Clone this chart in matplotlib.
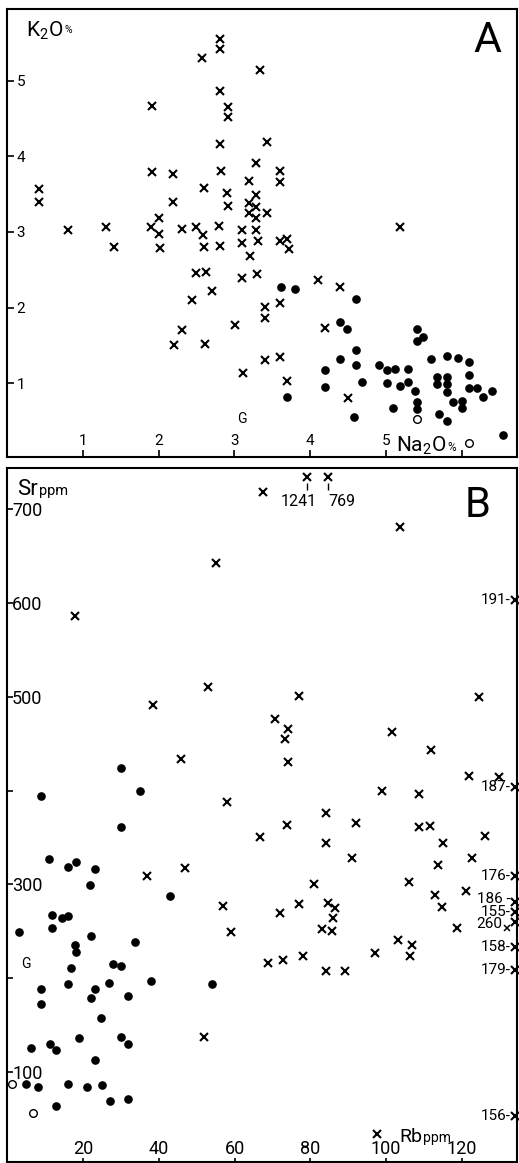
import numpy as np
import matplotlib
matplotlib.use('Agg')
import matplotlib.pyplot as plt

plt.rcParams['font.family'] = ['Roboto', 'DejaVu Sans']
plt.rcParams['mathtext.fontset'] = 'custom'
plt.rcParams['mathtext.rm'] = 'Roboto'
plt.rcParams['mathtext.default'] = 'regular'

## panel A : K2O vs Na2O (wt %)
a_cross_na = [0.42, 0.42, 0.80, 1.30, 1.41, 1.92, 1.91, 2.19, 2.19, 2.00, 1.90, 2.00, 2.02,
              2.31, 2.50, 2.59, 2.60, 2.80, 2.81, 2.57, 2.81, 2.81, 2.81, 2.91, 2.91, 2.81,
              2.82, 2.60, 2.90, 2.91, 3.20, 3.34, 3.43, 3.29, 3.60, 3.60, 3.29, 3.19, 3.29,
              3.43, 3.19, 3.29, 3.10, 3.29, 3.10, 3.31, 3.60, 3.70, 3.72, 3.21, 3.10, 3.30,
              2.49, 2.62, 2.44, 2.70, 2.31, 2.21, 2.61, 3.01, 3.11, 4.10, 4.39, 3.40, 3.40,
              3.60, 4.19, 3.40, 3.60, 3.70, 4.50, 5.18]
a_cross_k = [3.57, 3.40, 3.03, 3.07, 2.80, 4.67, 3.79, 3.77, 3.40, 3.18, 3.06, 2.97, 2.79,
             3.04, 3.07, 2.96, 2.80, 3.08, 2.81, 5.30, 5.56, 5.42, 4.87, 4.66, 4.52, 4.17,
             3.81, 3.58, 3.51, 3.35, 3.67, 5.15, 4.19, 3.92, 3.81, 3.66, 3.49, 3.38, 3.33,
             3.25, 3.25, 3.18, 3.03, 3.03, 2.85, 2.88, 2.88, 2.91, 2.78, 2.68, 2.39, 2.44,
             2.46, 2.47, 2.10, 2.22, 1.70, 1.50, 1.52, 1.77, 1.13, 2.36, 2.27, 2.01, 1.86,
             2.06, 1.73, 1.30, 1.35, 1.03, 0.80, 3.07]

a_dot_na = [3.61, 3.80, 4.61, 4.40, 4.49, 5.41, 5.49, 5.41, 4.60, 4.40, 4.60, 4.20, 4.91,
            5.01, 5.12, 5.29, 5.59, 5.80, 5.95, 6.09, 5.67, 5.80, 5.68, 5.80, 5.80, 6.09,
            6.09, 6.20, 6.40, 6.28, 6.00, 5.88, 6.00, 5.70, 5.80, 4.68, 4.20, 5.01, 5.19,
            5.29, 5.39, 5.41, 5.41, 5.09, 4.58, 3.69, 6.55]
a_dot_k = [2.27, 2.24, 2.11, 1.81, 1.72, 1.72, 1.61, 1.56, 1.44, 1.32, 1.24, 1.17, 1.24,
           1.17, 1.18, 1.18, 1.32, 1.36, 1.33, 1.28, 1.08, 1.08, 0.99, 0.99, 0.88, 1.11,
           0.93, 0.93, 0.89, 0.82, 0.76, 0.75, 0.67, 0.59, 0.50, 1.01, 0.95, 1.00, 0.96,
           1.01, 0.89, 0.75, 0.66, 0.67, 0.55, 0.81, 0.31]

a_open_na = [5.41, 6.10]
a_open_k = [0.52, 0.21]
a_g = (3.1, 0.52)

## panel B : Sr vs Rb (ppm)
b_cross_rb = [55.1, 17.9, 52.9, 38.5, 67.6, 103.6, 77.0, 124.5, 45.9, 58.0, 66.7, 36.8, 46.9,
              57.0, 59.0, 70.7, 74.0, 73.3, 74.0, 101.5, 111.8, 121.8, 129.8, 98.9, 108.7,
              84.1, 73.8, 92.0, 84.1, 108.7, 111.5, 114.9, 126.0, 91.0, 122.6, 113.7, 81.0,
              106.0, 121.0, 112.9, 114.7, 77.0, 71.9, 84.6, 86.5, 86.0, 83.0, 85.7, 118.7,
              103.2, 106.9, 106.3, 97.0, 68.8, 72.8, 78.1, 84.1, 89.1, 52.0, 97.6]
b_cross_sr = [643, 586, 510, 491, 718, 681, 501, 500, 434, 388, 351, 309, 317,
              277, 249, 476, 466, 455, 431, 462, 443, 416, 415, 400, 396,
              376, 363, 365, 344, 361, 362, 344, 352, 328, 328, 321, 300,
              303, 293, 289, 276, 279, 269, 280, 275, 264, 252, 250, 253,
              241, 235, 224, 227, 216, 219, 224, 208, 208, 137, 34]

b_dot_rb = [30.0, 35.0, 8.9, 30.0, 11.0, 18.2, 16.0, 23.1, 21.9, 43.1, 11.8, 14.4, 16.1, 11.9,
            3.1, 22.1, 33.8, 17.9, 18.1, 17.0, 28.0, 30.0, 8.9, 16.0, 26.9, 37.9, 54.0, 23.1,
            22.1, 31.8, 8.9, 24.9, 18.9, 30.0, 31.9, 11.3, 12.9, 6.3, 23.1, 5.0, 8.1, 16.0,
            21.0, 25.0, 32.0, 27.1, 12.9]
b_dot_sr = [424, 400, 394, 361, 327, 324, 319, 316, 299, 288, 267, 264, 266, 254,
            249, 245, 239, 235, 228, 211, 215, 213, 188, 194, 195, 197, 194, 188,
            179, 181, 172, 158, 136, 137, 130, 130, 123, 126, 113, 87, 84, 87,
            84, 86, 71, 69, 64]

b_open_rb = [1.3, 6.9]
b_open_sr = [87, 56]
b_g = (5.0, 215)

# off-scale samples: Sr above the frame, Rb beyond the right edge
top_rb = [79.0, 84.6]
top_sr = [734.6, 734.6]
top_labels = ['1241', '769']
edge_sr = [603, 404, 309, 281, 271, 260, 233, 209, 53]
edge_labels = ['191-', '187-', '176-', '186 -', '155-', '260', '158-', '179-', '156-']
edge_dy = [0, 0, 0, 2, -0.5, -1.5, 0, 0, 0]
edge_rb = 134.0

W, H = 519, 1163
fig = plt.figure(figsize=(W / 100, H / 100), dpi=100)


def box(x0, y0, x1, y1):
    return [x0 / W, 1 - y1 / H, (x1 - x0) / W, (y1 - y0) / H]


def ptext(x, y, s, **kw):
    return fig.text(x / W, 1 - y / H, s, va='baseline', **kw)


def title(x, y, big, small, bsize, ssize, rise=0):
    # big symbol followed by a small unit on (about) the same baseline
    t = ptext(x, y, big, fontsize=bsize)
    bb = t.get_window_extent(renderer=fig.canvas.get_renderer())
    ptext(bb.x1 + 1.5, y - rise, small, fontsize=ssize)


cross = dict(marker='x', ms=5.8, mew=1.5, color='black', ls='none')
dot = dict(marker='o', ms=5.2, color='black', ls='none')
ring = dict(marker='o', ms=5.5, mfc='white', mec='black', mew=1.0, ls='none')

axA = fig.add_axes(box(7, 8.5, 517, 457))
axA.plot(a_cross_na, a_cross_k, **cross)
axA.plot(a_dot_na, a_dot_k, **dot)
axA.plot(a_open_na, a_open_k, clip_on=False, **ring)
axA.text(a_g[0], a_g[1], 'G', fontsize=10, ha='center', va='center')
axA.set_xlim(0, 6.73)
axA.set_ylim(0.02, 5.96)
axA.set_xticks([1, 2, 3, 4, 5, 6], ['1', '2', '3', '4', '5', ''])
axA.set_yticks([1, 2, 3, 4, 5])
axA.tick_params(axis='y', direction='in', length=5, width=1.2, pad=-7, labelsize=11)
axA.tick_params(axis='x', direction='in', length=5, width=1.2, pad=-6.5, labelsize=11)
plt.setp(axA.get_yticklabels(), ha='left')
plt.setp(axA.get_xticklabels(), va='bottom')

axB = fig.add_axes(box(7, 468, 517, 1162))
axB.plot(b_cross_rb, b_cross_sr, **cross)
axB.plot(b_dot_rb, b_dot_sr, **dot)
axB.plot(b_open_rb, b_open_sr, clip_on=False, **ring)
axB.text(b_g[0], b_g[1], 'G', fontsize=10, ha='center', va='center')
axB.plot(top_rb, top_sr, clip_on=False, **cross)
axB.vlines(top_rb, np.array(top_sr) - 14, np.array(top_sr) - 7, color='black', lw=1)
axB.annotate(top_labels[0], (top_rb[0], top_sr[0]), xytext=(-5.5, -17.5),
             textcoords='offset points', ha='center', va='center', fontsize=11.5)
axB.annotate(top_labels[1], (top_rb[1], top_sr[1]), xytext=(10.5, -17.5),
             textcoords='offset points', ha='center', va='center', fontsize=11.5)
axB.plot([edge_rb] * len(edge_sr), edge_sr, clip_on=False, **cross)
for s, lab, dy in zip(edge_sr, edge_labels, edge_dy):
    off = -9 if lab == '260' else -3.5
    axB.annotate(lab, (edge_rb, s), xytext=(off, dy), textcoords='offset points',
                 ha='right', va='center', fontsize=11)
axB.plot([edge_rb - 2.2], [edge_sr[5] - 6.5], marker='x', ms=4, mew=1.1, color='black')
axB.set_xlim(0, 134.5)
axB.set_ylim(4, 744)
axB.set_xticks([20, 40, 60, 80, 100, 120])
axB.set_yticks([100, 200, 300, 400, 500, 600, 700],
               ['100', '', '300', '', '500', '600', '700'])
axB.tick_params(axis='y', direction='in', length=4, width=1.2, pad=-3.6, labelsize=13)
axB.tick_params(axis='x', direction='in', length=3, width=1.2, pad=-3, labelsize=13)
plt.setp(axB.get_yticklabels(), ha='left')
plt.setp(axB.get_xticklabels(), va='bottom')

for ax in (axA, axB):
    for sp in ax.spines.values():
        sp.set_linewidth(1.5)

# axis titles and panel letters
title(26, 37, 'K$_2$O', '%', 15, 7.5, rise=4)
ptext(473, 52, 'A', fontsize=31)
title(396, 452, 'Na$_2$O', '%', 15, 8.5, rise=1)
title(17, 495, 'Sr', 'ppm', 16, 10.5)
ptext(465, 517, 'B', fontsize=30)
title(399, 1142, 'Rb', 'ppm', 14, 10)

fig.savefig('out.png', dpi=100)
